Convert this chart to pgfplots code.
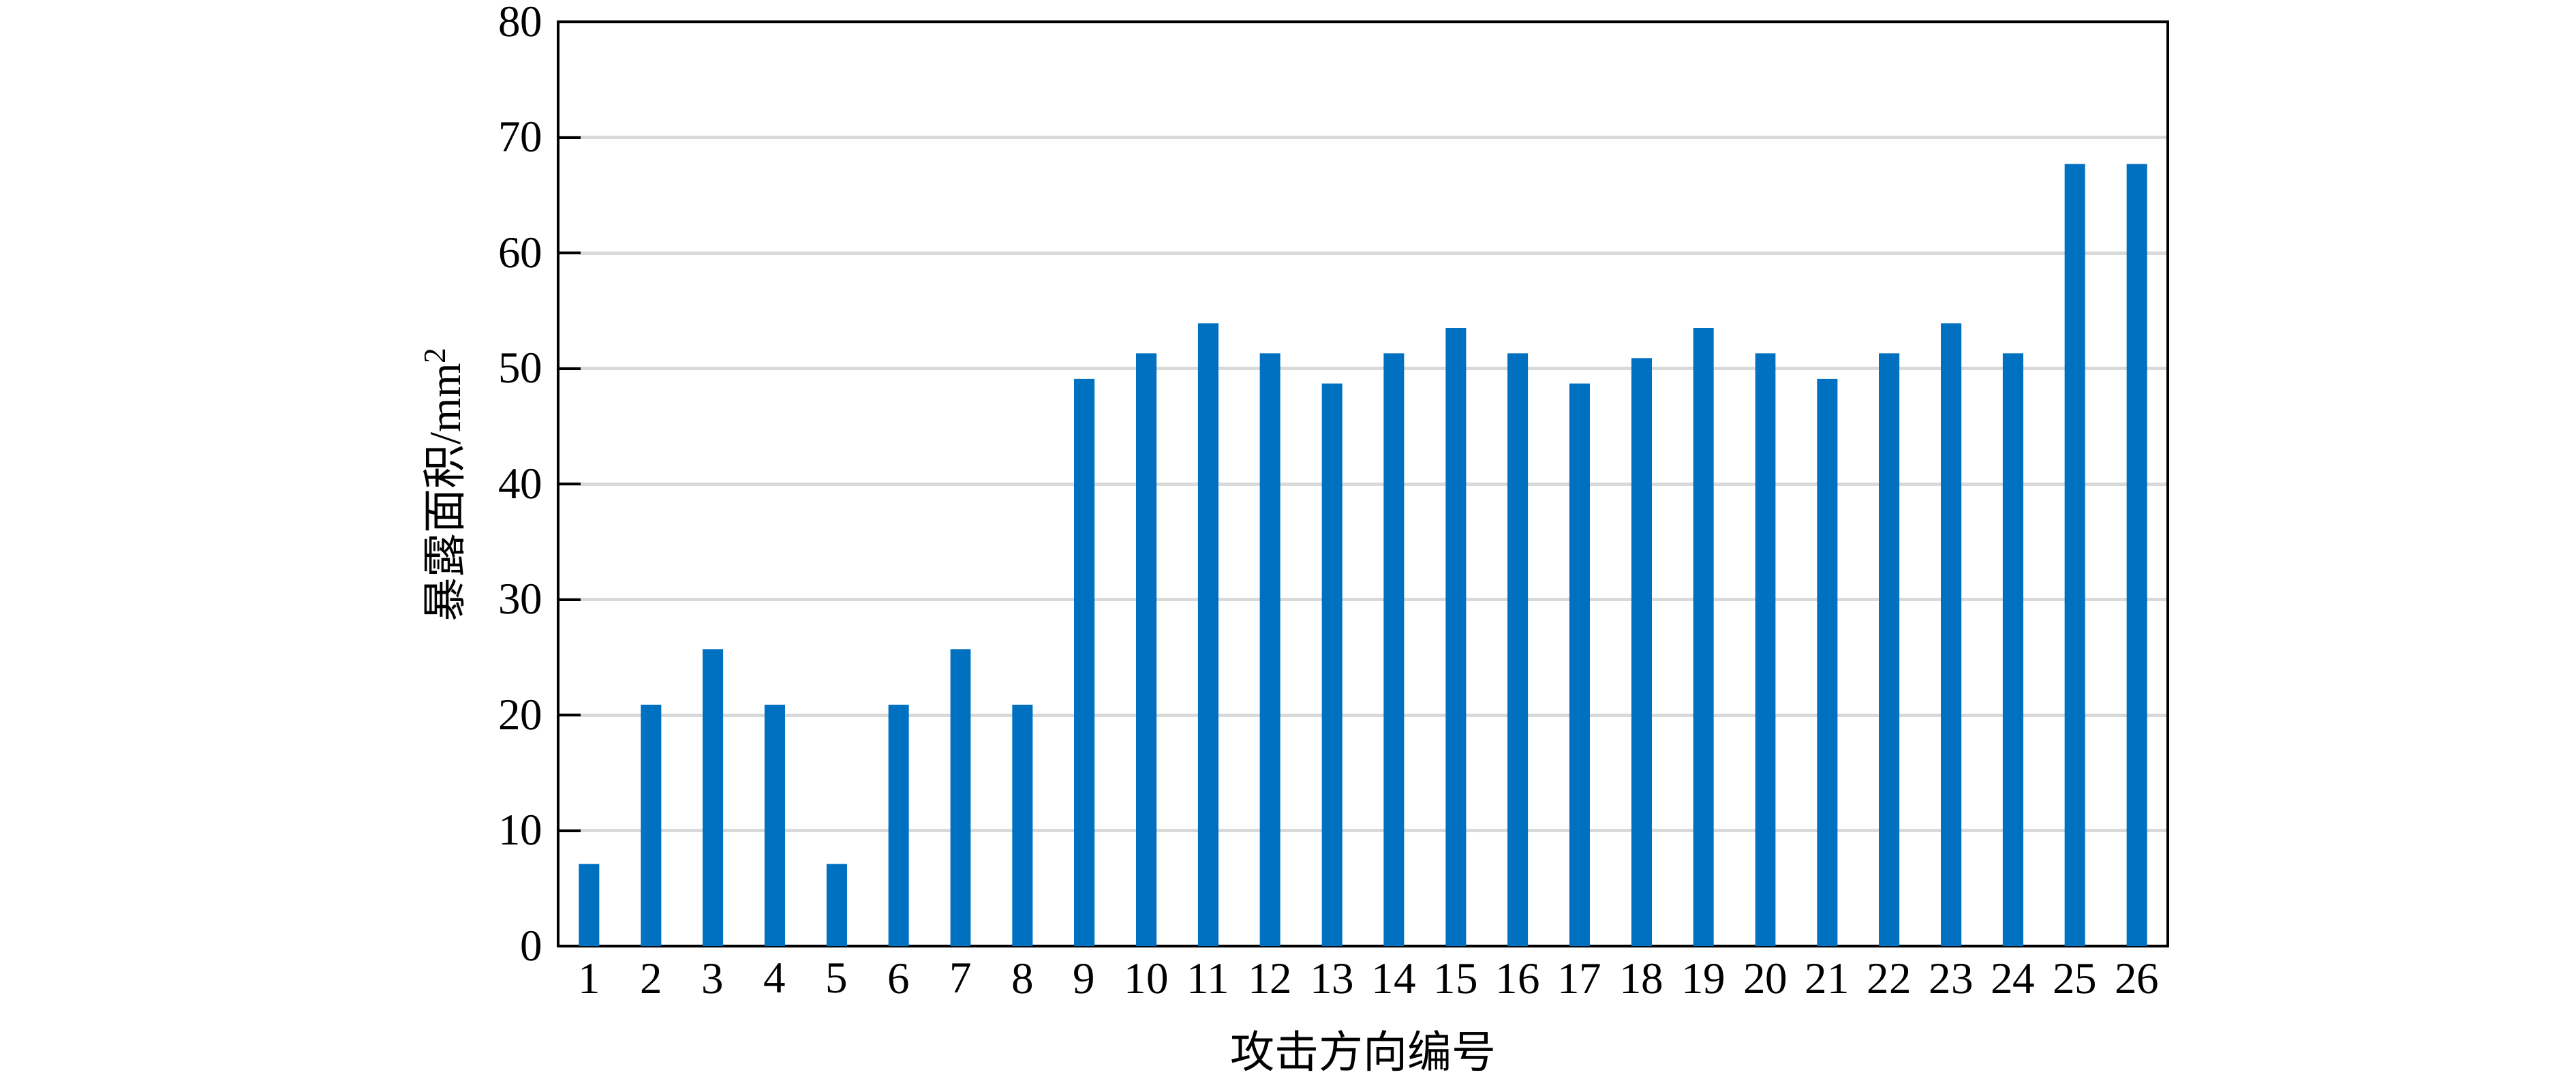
\documentclass[border=0pt]{standalone}
\usepackage{pgfplots}
\pgfplotsset{compat=1.18}
\usepackage{pgfplotstable}
\usepackage{fontspec}
\setmainfont{Liberation Serif}
\newfontfamily\cjk{Noto Sans CJK SC}
\definecolor{barblue}{HTML}{0070C0}
\definecolor{gridgray}{HTML}{D9D9D9}
\pgfplotstableread{
x y
1 7.1
2 20.9
3 25.7
4 20.9
5 7.1
6 20.9
7 25.7
8 20.9
9 49.1
10 51.3
11 53.9
12 51.3
13 48.7
14 51.3
15 53.5
16 51.3
17 48.7
18 50.9
19 53.5
20 51.3
21 49.1
22 51.3
23 53.9
24 51.3
25 67.7
26 67.7
}\datatable
\begin{document}
\begin{tikzpicture}
\path[use as bounding box] (0,0) rectangle (756pt,317pt);
\begin{axis}[
  at={(163.8pt,39.4pt)}, anchor=south west,
  scale only axis,
  width=472.4pt, height=271.2pt,
  xmin=0.5, xmax=26.5, ymin=0, ymax=80,
  xtick={1,...,26},
  ytick={0,10,...,80},
  ytick pos=left,
  tick align=inside,
  major tick length=6.6pt,
  x tick style={draw=none},
  y tick style={line width=0.8pt, black},
  axis line style={line width=0.8pt, black},
  ymajorgrids,
  grid style={gridgray, line width=1pt},
  font=\fontsize{13}{15.6}\selectfont,
  /pgf/number format/assume math mode=true,
  yticklabel style={xshift=-1pt},
  xticklabel style={yshift=-1.7pt},
  xlabel={\cjk 攻击方向编号},
  ylabel={{\cjk 暴露面积}/mm\textsuperscript{2}},
  xlabel style={at={(axis description cs:0.5,-0.1136)}, anchor=center},
  ylabel style={at={(axis description cs:-0.0711,0.5)}, anchor=center},
]
\addplot[ybar, bar width=0.33, fill=barblue, draw=none] table[x=x,y=y] {\datatable};
\end{axis}
\end{tikzpicture}
\end{document}
